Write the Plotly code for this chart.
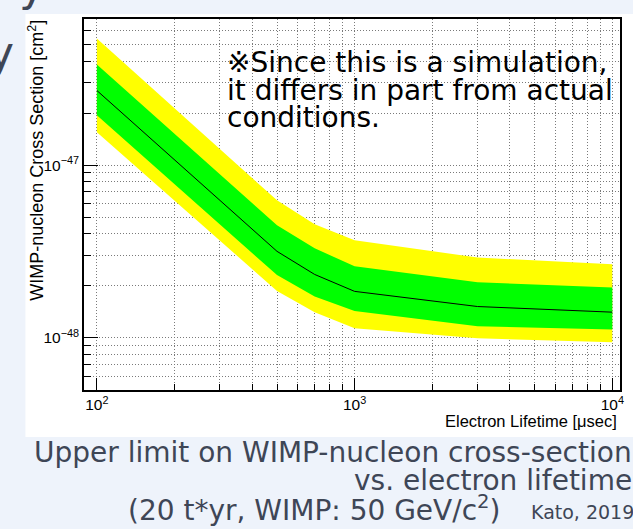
import plotly.graph_objects as go

# ---- data ----
lifetime_us = [100, 500, 700, 1000, 3000, 10000]
median_xs = [2.70e-47, 3.17e-48, 2.33e-48, 1.86e-48, 1.52e-48, 1.41e-48]
green_hi = [3.82e-47, 4.49e-48, 3.30e-48, 2.60e-48, 2.10e-48, 1.96e-48]
green_lo = [1.94e-47, 2.31e-48, 1.74e-48, 1.43e-48, 1.17e-48, 1.12e-48]
yellow_hi = [5.40e-47, 6.25e-48, 4.54e-48, 3.67e-48, 2.92e-48, 2.67e-48]
yellow_lo = [1.55e-47, 1.87e-48, 1.41e-48, 1.14e-48, 0.996e-48, 0.944e-48]

x_major = [100, 1000, 10000]
x_major_text = ["10<sup>2</sup>", "10<sup>3</sup>", "10<sup>4</sup>"]
y_major = [1e-48, 1e-47]
y_major_text = ["10<sup>\u221248</sup>", "10<sup>\u221247</sup>"]

# ---- geometry helpers (pixels -> paper) ----
W_FIG, H_FIG = 633, 529
L, R, T, B = 84, 624, 19, 390
PW, PH = R - L, B - T


def px(x):
    return (x - L) / PW


def py(y):
    return (B - y) / PH


x_minor = [m * 10 ** e for e in (2, 3) for m in range(2, 10)]
y_minor = [m * 1e-49 for m in range(5, 10)] + [m * 1e-48 for m in range(2, 10)] + [m * 1e-47 for m in range(2, 8)]

fig = go.Figure()
fig.add_trace(go.Scatter(
    x=lifetime_us + lifetime_us[::-1], y=yellow_hi + yellow_lo[::-1],
    fill="toself", fillcolor="#ffff00", line=dict(width=0), mode="lines",
    hoverinfo="skip", showlegend=False))
fig.add_trace(go.Scatter(
    x=lifetime_us + lifetime_us[::-1], y=green_hi + green_lo[::-1],
    fill="toself", fillcolor="#00ff00", line=dict(width=0), mode="lines",
    hoverinfo="skip", showlegend=False))
fig.add_trace(go.Scatter(
    x=lifetime_us, y=median_xs, mode="lines",
    line=dict(color="black", width=1), showlegend=False))

grid = dict(gridcolor="#7a7a7a", griddash="1px,2px", gridwidth=1)
root_font = "Liberation Sans, Arial, sans-serif"
tickfont = dict(family=root_font, size=15.5, color="black")

fig.update_xaxes(
    type="log", range=[1.95, 4.03],
    tickmode="array", tickvals=x_major, ticktext=x_major_text,
    ticks="inside", ticklen=12, tickcolor="black", tickwidth=1,
    showline=True, linecolor="black", linewidth=1.5, mirror=True,
    showgrid=True, **grid, tickfont=tickfont,
    minor=dict(tickmode="array", tickvals=x_minor, ticks="inside", ticklen=6,
               tickcolor="black", showgrid=True, **grid),
    zeroline=False,
)
fig.update_yaxes(
    type="log", range=[-48.301, -46.155],
    tickmode="array", tickvals=y_major, ticktext=y_major_text,
    ticks="inside", ticklen=14, tickcolor="black", tickwidth=1,
    showline=True, linecolor="black", linewidth=1.5, mirror=True,
    showgrid=True, **grid, tickfont=tickfont,
    minor=dict(tickmode="array", tickvals=y_minor, ticks="inside", ticklen=7,
               tickcolor="black", showgrid=True, **grid),
    zeroline=False,
)

slide_font = "DejaVu Sans, Noto Sans CJK JP, sans-serif"
slide_color = "#3e4656"

annotations = [
    dict(text="WIMP-nucleon Cross Section [cm<sup>2</sup>]", textangle=-90,
         x=px(36), y=py(18), xanchor="center", yanchor="top",
         font=dict(family=root_font, size=18, color="black")),
    dict(text="Electron Lifetime [\u03bcsec]",
         x=px(623), y=py(421), xanchor="right", yanchor="middle",
         font=dict(family=root_font, size=16.5, color="black")),
    dict(text="\u203bSince this is a simulation,", x=px(226), y=py(63), xanchor="left", yanchor="middle",
         font=dict(family=slide_font, size=28, color="black")),
    dict(text="it differs in part from actual", x=px(226), y=py(90), xanchor="left", yanchor="middle",
         font=dict(family=slide_font, size=28, color="black")),
    dict(text="conditions.", x=px(226), y=py(117), xanchor="left", yanchor="middle",
         font=dict(family=slide_font, size=28, color="black")),
    dict(text="Upper limit on WIMP-nucleon cross-section", x=px(638), y=py(452), xanchor="right", yanchor="middle",
         font=dict(family=slide_font, size=28, color=slide_color)),
    dict(text="vs. electron lifetime", x=px(638), y=py(480), xanchor="right", yanchor="middle",
         font=dict(family=slide_font, size=28, color=slide_color)),
    dict(text="(20 t*yr, WIMP: 50 GeV/c<sup>2</sup>)", x=px(505), y=py(508), xanchor="right", yanchor="middle",
         font=dict(family=slide_font, size=28, color=slide_color)),
    dict(text="Kato, 2019", x=px(640), y=py(512), xanchor="right", yanchor="middle",
         font=dict(family=slide_font, size=19, color=slide_color)),
    dict(text="y", x=px(32), y=py(-14), xanchor="center", yanchor="middle",
         font=dict(family=slide_font, size=44, color=slide_color)),
    dict(text="y", x=px(0), y=py(52), xanchor="center", yanchor="middle",
         font=dict(family=slide_font, size=44, color=slide_color)),
]
for a in annotations:
    a.update(xref="paper", yref="paper", showarrow=False)

fig.update_layout(
    width=W_FIG, height=H_FIG,
    margin=dict(l=L, r=W_FIG - R, t=T, b=H_FIG - B, pad=0),
    paper_bgcolor="#eef3fb", plot_bgcolor="white",
    annotations=annotations,
    shapes=[dict(type="rect", xref="paper", yref="paper", layer="below",
                 x0=px(25), x1=px(640), y0=py(437), y1=py(14),
                 fillcolor="white", line=dict(width=0))],
)

fig.write_html("out.html")
